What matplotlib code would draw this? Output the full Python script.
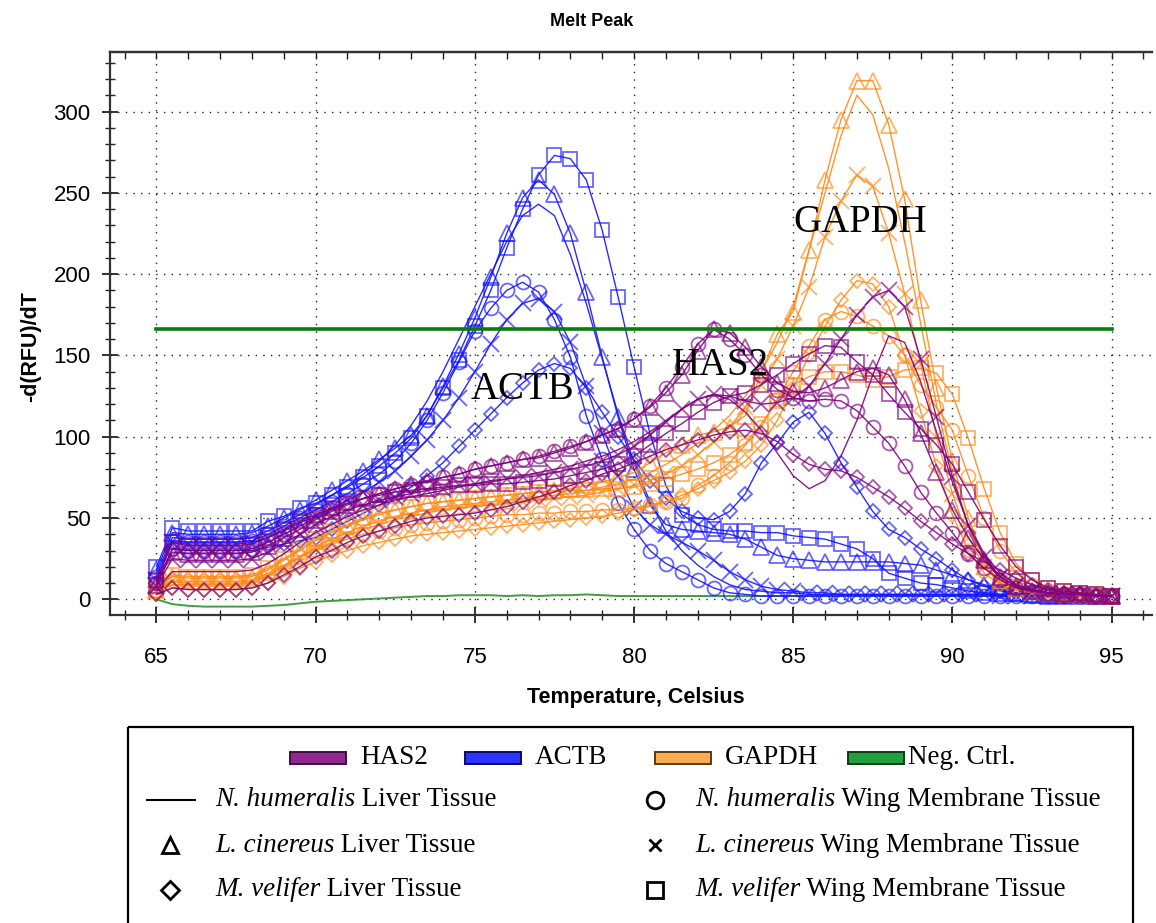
"""
Melt peak chart: -d(RFU)/dT vs temperature for HAS2, ACTB and GAPDH
in three bat species (liver and wing membrane), plus the negative control.
Values are read off the instrument export every 0.5 C.
"""

import numpy as np
import matplotlib
matplotlib.use("Agg")
import matplotlib.pyplot as plt
from matplotlib.patches import Rectangle
from matplotlib.ticker import MultipleLocator

plt.rcParams["font.family"] = ["Liberation Sans", "DejaVu Sans"]
SERIF = ["Liberation Serif", "DejaVu Serif"]

# melt steps, 65.0 .. 95.0 C
temps = np.arange(65.0, 95.01, 0.5)

# ---- ACTB ----
actb_nh_liver = [16, 38, 37, 37, 37, 37, 38, 42, 47, 52,
                 58, 64, 70, 77, 85, 95, 107, 122, 140, 160,
                 180, 200, 220, 236, 243, 236, 212, 182, 148, 114,
                 84, 60, 42, 30, 21, 14, 9, 6, 5, 4,
                 4, 3, 3, 3, 3, 3, 3, 3, 3, 3,
                 3, 3, 3, 3, 2, 2, 2, 2, 2, 2,
                 2]
actb_nh_wing = [14, 36, 35, 35, 35, 35, 36, 40, 45, 50,
                55, 60, 65, 71, 77, 85, 96, 110, 127, 146,
                165, 179, 190, 195, 189, 172, 149, 113, 86, 59,
                43, 30, 22, 17, 12, 7, 4, 3, 2, 2,
                2, 2, 2, 2, 2, 2, 2, 2, 2, 2,
                2, 2, 2, 2, 2, 2, 2, 2, 2, 2,
                2]
actb_lc_liver = [18, 41, 40, 40, 40, 40, 41, 45, 50, 55,
                 61, 67, 73, 79, 86, 93, 101, 113, 131, 151,
                 173, 198, 225, 247, 258, 249, 225, 189, 149, 112,
                 80, 58, 46, 43, 42, 41, 40, 37, 32, 27,
                 25, 24, 23, 23, 23, 23, 23, 22, 21, 18,
                 15, 12, 9, 6, 4, 3, 2, 2, 2, 2,
                 2]
actb_lc_wing = [12, 35, 34, 34, 34, 34, 35, 38, 42, 47,
                51, 56, 61, 66, 72, 79, 88, 98, 110, 124,
                140, 157, 172, 182, 185, 177, 158, 131, 102, 76,
                56, 46, 40, 35, 30, 24, 17, 12, 8, 6,
                5, 4, 4, 3, 3, 3, 3, 3, 3, 3,
                3, 3, 3, 2, 2, 2, 2, 2, 2, 2,
                2]
actb_mv_liver = [10, 31, 30, 30, 30, 30, 30, 32, 34, 36,
                 38, 43, 48, 53, 58, 63, 69, 76, 84, 94,
                 104, 114, 124, 133, 141, 145, 142, 130, 115, 100,
                 86, 73, 62, 54, 50, 49, 54, 65, 84, 96,
                 109, 115, 102, 84, 69, 54, 43, 38, 31, 25,
                 18, 12, 8, 5, 4, 3, 2, 2, 2, 2,
                 2]
actb_mv_wing = [20, 44, 42, 42, 42, 42, 42, 48, 51, 56,
                59, 64, 69, 75, 82, 90, 99, 113, 130, 147,
                168, 190, 216, 240, 261, 273, 271, 258, 227, 186,
                143, 102, 70, 52, 46, 43, 42, 42, 41, 41,
                39, 38, 37, 34, 31, 25, 16, 13, 10, 9,
                7, 5, 4, 3, 3, 2, 2, 2, 2, 2,
                2]

# ---- HAS2 ----
has2_nh_liver = [6, 17, 17, 17, 17, 17, 18, 22, 28, 35,
                 41, 46, 51, 55, 58, 61, 63, 65, 67, 69,
                 71, 73, 74, 76, 78, 80, 82, 85, 88, 92,
                 97, 103, 110, 117, 123, 126, 123, 115, 104, 90,
                 76, 68, 73, 88, 110, 138, 162, 158, 134, 103,
                 72, 46, 28, 16, 9, 6, 4, 3, 3, 2,
                 2]
has2_nh_wing = [10, 31, 30, 30, 30, 30, 31, 35, 40, 45,
                50, 55, 59, 62, 65, 68, 70, 72, 75, 77,
                80, 82, 84, 86, 88, 91, 94, 97, 101, 105,
                111, 119, 130, 143, 157, 166, 160, 150, 138, 129,
                124, 122, 123, 122, 116, 106, 96, 82, 66, 53,
                41, 28, 19, 12, 7, 5, 4, 3, 3, 2,
                2]
has2_lc_liver = [9, 29, 28, 28, 28, 28, 29, 33, 38, 43,
                 49, 54, 58, 62, 65, 68, 71, 73, 75, 77,
                 80, 82, 84, 86, 87, 90, 93, 97, 101, 105,
                 111, 118, 127, 138, 153, 166, 164, 155, 143, 133,
                 128, 127, 130, 135, 140, 142, 138, 123, 102, 78,
                 55, 38, 24, 14, 8, 5, 4, 3, 3, 2,
                 2]
has2_lc_wing = [8, 25, 24, 24, 24, 24, 25, 29, 34, 40,
                46, 51, 55, 58, 61, 63, 65, 67, 68, 70,
                71, 72, 74, 75, 76, 78, 80, 82, 85, 89,
                94, 101, 109, 117, 123, 126, 125, 122, 120, 121,
                124, 131, 145, 160, 175, 186, 190, 180, 148, 112,
                75, 45, 26, 14, 8, 5, 4, 3, 3, 2,
                2]
has2_mv_liver = [3, 7, 6, 6, 6, 6, 7, 10, 15, 20,
                 26, 30, 35, 39, 42, 45, 48, 50, 51, 52,
                 53, 55, 57, 60, 63, 66, 70, 73, 77, 80,
                 84, 88, 92, 95, 98, 101, 103, 104, 102, 97,
                 89, 83, 80, 79, 75, 69, 63, 56, 48, 41,
                 34, 28, 23, 18, 13, 9, 6, 4, 3, 2,
                 2]
has2_mv_wing = [12, 35, 33, 33, 33, 33, 34, 38, 43, 48,
                52, 56, 59, 62, 64, 66, 67, 68, 69, 70,
                70, 71, 71, 72, 73, 74, 76, 78, 80, 83,
                88, 95, 102, 108, 115, 121, 125, 127, 132, 138,
                145, 151, 156, 155, 146, 138, 126, 115, 105, 95,
                83, 66, 49, 33, 20, 12, 7, 5, 4, 3,
                2]

# ---- GAPDH ----
gapdh_nh_liver = [4, 9, 9, 9, 9, 9, 10, 14, 20, 26,
                  32, 37, 41, 45, 48, 51, 53, 55, 57, 58,
                  59, 60, 61, 62, 63, 64, 65, 67, 69, 71,
                  74, 78, 83, 89, 96, 104, 113, 125, 140, 158,
                  180, 215, 250, 285, 310, 298, 265, 220, 170, 120,
                  78, 45, 22, 11, 6, 4, 3, 3, 2, 2,
                  2]
gapdh_nh_wing = [5, 12, 11, 11, 11, 11, 12, 16, 21, 26,
                 30, 34, 37, 40, 42, 44, 46, 47, 48, 49,
                 50, 51, 52, 52, 53, 53, 54, 54, 55, 55,
                 56, 58, 60, 62, 70, 76, 84, 95, 106, 123,
                 140, 156, 172, 177, 174, 168, 162, 150, 132, 118,
                 104, 76, 50, 30, 16, 9, 6, 4, 3, 3,
                 2]
gapdh_lc_liver = [6, 14, 13, 13, 13, 13, 14, 18, 24, 30,
                  36, 41, 45, 49, 52, 55, 57, 59, 60, 61,
                  62, 63, 64, 65, 66, 67, 68, 70, 72, 75,
                  78, 84, 90, 95, 101, 103, 106, 113, 140, 163,
                  177, 215, 258, 295, 319, 319, 292, 246, 184, 130,
                  85, 50, 25, 12, 7, 5, 4, 3, 3, 2,
                  2]
gapdh_lc_wing = [5, 11, 10, 10, 10, 10, 11, 15, 20, 26,
                 31, 35, 39, 43, 46, 49, 51, 53, 55, 56,
                 57, 58, 59, 60, 61, 62, 63, 64, 66, 68,
                 70, 73, 77, 82, 89, 97, 106, 118, 132, 148,
                 168, 192, 223, 245, 261, 254, 225, 188, 145, 100,
                 65, 38, 20, 10, 6, 4, 3, 3, 2, 2,
                 2]
gapdh_mv_liver = [3, 7, 6, 6, 6, 6, 7, 10, 14, 19,
                  23, 27, 30, 33, 35, 37, 39, 40, 41, 42,
                  43, 44, 45, 46, 47, 48, 49, 50, 51, 53,
                  55, 57, 60, 64, 68, 73, 78, 85, 95, 110,
                  130, 150, 168, 184, 196, 194, 180, 150, 116, 82,
                  52, 30, 16, 9, 6, 4, 3, 3, 2, 2,
                  2]
gapdh_mv_wing = [6, 15, 14, 14, 14, 14, 15, 19, 25, 31,
                 37, 42, 46, 50, 53, 55, 57, 59, 60, 61,
                 62, 63, 64, 65, 66, 66, 67, 67, 68, 68,
                 69, 71, 74, 77, 80, 84, 89, 96, 108, 122,
                 132, 137, 140, 140, 138, 135, 137, 141, 142, 139,
                 126, 99, 68, 41, 22, 12, 7, 5, 4, 3,
                 2]

# ---- negative control + threshold ----
neg_ctrl = [0, -3, -4, -4.5, -4.5, -4.5, -4.5, -4, -3.5, -2.5,
            -1.5, -1, -0.5, 0, 0.5, 1, 1.5, 2, 2, 2.5,
            2.5, 2.5, 2, 2.5, 2, 2.5, 2.5, 3, 2.5, 2,
            2, 2, 2, 2, 2, 2, 2, 2, 2, 2,
            2, 2, 2, 2, 2, 2, 2, 2, 2, 2,
            2, 2, 2, 2, 2, 2, 2, 2, 2, 2,
            2]
threshold = 166
threshold_range = [65, 95]

genes = ["ACTB", "GAPDH", "HAS2"]  # draw order
gene_colors = {"HAS2": "#800080", "ACTB": "#1414FF", "GAPDH": "#FF8A17"}
samples = ["nh_liver", "nh_wing", "lc_liver", "lc_wing", "mv_liver", "mv_wing"]
sample_labels = [("N. humeralis", "Liver Tissue"), ("N. humeralis", "Wing Membrane Tissue"),
                 ("L. cinereus", "Liver Tissue"), ("L. cinereus", "Wing Membrane Tissue"),
                 ("M. velifer", "Liver Tissue"), ("M. velifer", "Wing Membrane Tissue")]
# marker style per sample: (marker, markersize)
sample_markers = {"nh_liver": (None, 0), "nh_wing": ("o", 10), "lc_liver": ("^", 11),
                  "lc_wing": ("x", 11), "mv_liver": ("D", 7.5), "mv_wing": ("s", 10)}

curves = {
    ("ACTB", "nh_liver"): actb_nh_liver, ("ACTB", "nh_wing"): actb_nh_wing,
    ("ACTB", "lc_liver"): actb_lc_liver, ("ACTB", "lc_wing"): actb_lc_wing,
    ("ACTB", "mv_liver"): actb_mv_liver, ("ACTB", "mv_wing"): actb_mv_wing,
    ("HAS2", "nh_liver"): has2_nh_liver, ("HAS2", "nh_wing"): has2_nh_wing,
    ("HAS2", "lc_liver"): has2_lc_liver, ("HAS2", "lc_wing"): has2_lc_wing,
    ("HAS2", "mv_liver"): has2_mv_liver, ("HAS2", "mv_wing"): has2_mv_wing,
    ("GAPDH", "nh_liver"): gapdh_nh_liver, ("GAPDH", "nh_wing"): gapdh_nh_wing,
    ("GAPDH", "lc_liver"): gapdh_lc_liver, ("GAPDH", "lc_wing"): gapdh_lc_wing,
    ("GAPDH", "mv_liver"): gapdh_mv_liver, ("GAPDH", "mv_wing"): gapdh_mv_wing,
}

# gene name labels placed on the plot
gene_labels = [("ACTB", 76.5, 129), ("HAS2", 82.7, 144), ("GAPDH", 87.1, 232)]

W, H = 1156, 923
fig = plt.figure(figsize=(W / 100, H / 100), dpi=100)
ax = fig.add_axes([110 / W, 308 / H, 1042 / W, 563.3 / H])

ax.plot(temps, neg_ctrl, color="#1E8C1E", lw=1.4, alpha=0.85, zorder=2)
for gene in genes:
    color = gene_colors[gene]
    for s in samples:
        vals = curves[(gene, s)]
        marker, ms = sample_markers[s]
        ax.plot(temps, vals, color=color, lw=1.0, alpha=0.9, zorder=3)
        if marker:
            ax.plot(temps, vals, ls="none", marker=marker, ms=ms, mfc="none",
                    mec=color, mew=1.3, alpha=0.65, zorder=3)

ax.plot(threshold_range, [threshold, threshold], color="#0A7A0A", lw=2.6, zorder=4)

for name, tx, ty in gene_labels:
    ax.text(tx, ty, name, ha="center", va="center", fontsize=28, family=SERIF, zorder=6)

ax.set_xlim(63.54, 96.27)
ax.set_ylim(-9.66, 336.8)
ax.xaxis.set_major_locator(MultipleLocator(5))
ax.xaxis.set_minor_locator(MultipleLocator(1))
ax.yaxis.set_major_locator(MultipleLocator(50))
ax.yaxis.set_minor_locator(MultipleLocator(10))
ax.set_axisbelow(True)
ax.grid(True, which="major", color="#222222", ls=(0, (1, 4.5)), lw=1.0)
ax.tick_params(which="major", direction="inout", length=12, width=1.3, labelsize=16,
               color="#222222")
ax.tick_params(which="minor", direction="inout", length=7, width=1.0, color="#222222")
ax.tick_params(axis="x", pad=17)
ax.tick_params(axis="y", pad=8)
for side in ["left", "bottom", "top"]:
    ax.spines[side].set_linewidth(1.6)
    ax.spines[side].set_color("#333333")
ax.spines["right"].set_visible(False)

top = ax.secondary_xaxis("top")
top.xaxis.set_major_locator(MultipleLocator(5))
top.xaxis.set_minor_locator(MultipleLocator(1))
top.tick_params(which="both", direction="in", length=5, width=1.0, labeltop=False,
                color="#222222")
top.spines["top"].set_linewidth(1.6)
top.spines["top"].set_color("#333333")

ax.set_xlabel("Temperature, Celsius", fontsize=15.5, fontweight="bold")
ax.xaxis.set_label_coords(0.5045, -0.127)
ax.set_ylabel("-d(RFU)/dT", fontsize=15.5, fontweight="bold")
ax.yaxis.set_label_coords(-0.066, 0.476)
fig.text(592 / W, 1 - 21 / H, "Melt Peak", ha="center", va="center",
         fontsize=13, fontweight="bold")

# ---- legend box, drawn in pixel coordinates ----
leg = fig.add_axes([0, 0, 1, 1])
leg.set_xlim(0, W)
leg.set_ylim(H, 0)
leg.axis("off")
leg.patch.set_alpha(0)
leg.add_patch(Rectangle((128, 727), 1005, 210, fill=False, lw=1.6, ec="black"))

legend_patch_colors = {"HAS2": ("#92278F", "#3C0F3C"), "ACTB": ("#2B35FF", "#0A0A60"),
                       "GAPDH": ("#FFAA55", "#5A3A10"), "Neg. Ctrl.": ("#22A040", "#0A3A14")}
patch_x = {"HAS2": 290, "ACTB": 465, "GAPDH": 655, "Neg. Ctrl.": 848}
for name, px in patch_x.items():
    fc, ec = legend_patch_colors[name]
    leg.add_patch(Rectangle((px, 752), 56, 12, fc=fc, ec=ec, lw=1.4))
    leg.text(px + (70 if name != "Neg. Ctrl." else 60), 758, name, va="center",
             ha="left", fontsize=19.5, family=SERIF)

row_y = [800, 845, 890]
for i, (s, (species, tissue)) in enumerate(zip(samples, sample_labels)):
    col, row = i % 2, i // 2
    y = row_y[row]
    mx, tx = (170, 215) if col == 0 else (655, 695)
    marker, ms = sample_markers[s]
    if marker is None:
        leg.plot([147, 195], [y, y], color="black", lw=1.5)
    else:
        size = {"o": 12, "^": 12, "x": 8, "D": 9, "s": 12}[marker]
        leg.plot([mx], [y], ls="none", marker=marker, ms=size, mfc="none",
                 mec="black", mew=2.0)
    t1 = leg.text(tx, y, species, va="center", ha="left", fontsize=19.5,
                  family=SERIF, style="italic")
    leg.annotate(" " + tissue, xy=(1, 0), xycoords=t1, va="bottom", ha="left",
                 fontsize=19.5, family=SERIF)

fig.savefig("out.png", dpi=100)
